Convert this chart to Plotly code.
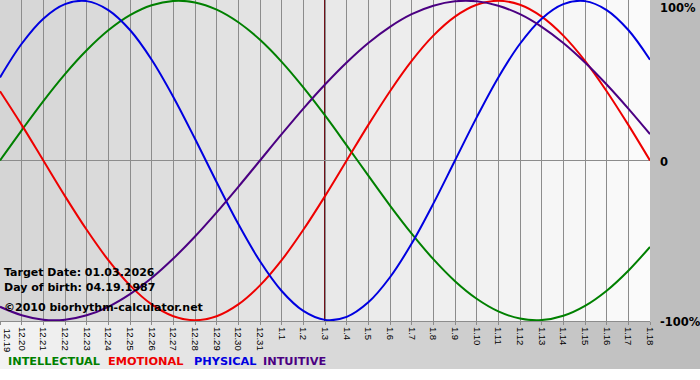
import plotly.graph_objects as go

# ---------------- data ----------------
day_labels = ["12.19", "12.20", "12.21", "12.22", "12.23", "12.24", "12.25", "12.26", "12.27",
              "12.28", "12.29", "12.30", "12.31", "1.1", "1.2", "1.3", "1.4", "1.5", "1.6",
              "1.7", "1.8", "1.9", "1.10", "1.11", "1.12", "1.13", "1.14", "1.15", "1.16",
              "1.17", "1.18"]

intellectual = [0.000, 0.189, 0.372, 0.541, 0.690, 0.815, 0.910, 0.972, 0.999, 0.990, 0.945,
                0.866, 0.756, 0.618, 0.458, 0.282, 0.095, -0.095, -0.282, -0.458, -0.618,
                -0.756, -0.866, -0.945, -0.990, -0.999, -0.972, -0.910, -0.815, -0.690, -0.541]

emotional = [0.434, 0.223, 0.000, -0.223, -0.434, -0.624, -0.782, -0.901, -0.975, -1.000,
             -0.975, -0.901, -0.782, -0.624, -0.434, -0.223, 0.000, 0.223, 0.434, 0.624,
             0.782, 0.901, 0.975, 1.000, 0.975, 0.901, 0.782, 0.624, 0.434, 0.223, 0.000]

physical = [0.520, 0.731, 0.888, 0.979, 0.998, 0.942, 0.817, 0.631, 0.398, 0.136, -0.136,
            -0.398, -0.631, -0.817, -0.942, -0.998, -0.979, -0.888, -0.731, -0.520, -0.270,
            0.000, 0.270, 0.520, 0.731, 0.888, 0.979, 0.998, 0.942, 0.817, 0.631]

intuitive = [-0.916, -0.969, -0.997, -0.997, -0.969, -0.916, -0.837, -0.736, -0.614, -0.476,
             -0.325, -0.165, 0.000, 0.165, 0.325, 0.476, 0.614, 0.736, 0.837, 0.916, 0.969,
             0.997, 0.997, 0.969, 0.916, 0.837, 0.736, 0.614, 0.476, 0.325, 0.165]

series_names = ["INTELLECTUAL", "EMOTIONAL", "PHYSICAL", "INTUITIVE"]
series_colors = ["#008000", "#ee0000", "#0000e0", "#4b0082"]
y_labels = ["100%", "0", "-100%"]
y_label_vals = [1, 0, -1]
target_day = "1.3"
info_lines = ["Target Date: 01.03.2026", "Day of birth: 04.19.1987"]
copyright_text = "©2010 biorhythm-calculator.net"

# ---------------- geometry ----------------
W, H = 700, 380
L, R, T, B = 0, 50, 0, 59
PW, PH = W - L - R, H - T - B


def px_x(p):
    return (p - L) / PW


def px_y(p):
    return (H - B - p) / PH


x_idx = list(range(len(day_labels)))
fig = go.Figure()

for name, vals, col in zip(series_names, [intellectual, emotional, physical, intuitive], series_colors):
    fig.add_trace(go.Scatter(x=x_idx, y=vals, mode="lines", name=name,
                             line=dict(color=col, width=2, shape="spline", smoothing=1.0),
                             hoverinfo="skip"))

shapes = []
# outer background gradient (light left -> darker right)
n_out = 70
for i in range(n_out):
    c = int(round(243 - (243 - 188) * i / (n_out - 1)))
    shapes.append(dict(type="rect", xref="paper", yref="paper",
                       x0=px_x(i * W / n_out), x1=px_x((i + 1) * W / n_out + 0.5),
                       y0=px_y(369), y1=px_y(0), line=dict(width=0),
                       fillcolor=f"rgb({c},{c},{c})", layer="below"))
# plot area gradient (darker left -> light right)
n_in = 65
for i in range(n_in):
    c = int(round(213 - (213 - 251) * i / (n_in - 1)))
    shapes.append(dict(type="rect", xref="paper", yref="paper",
                       x0=i / n_in, x1=min(1.0, (i + 1) / n_in + 0.001),
                       y0=0, y1=1, line=dict(width=0),
                       fillcolor=f"rgb({c},{c},{c})", layer="below"))
# target day line
ti = day_labels.index(target_day)
shapes.append(dict(type="line", xref="x", yref="paper", x0=ti, x1=ti, y0=0, y1=1,
                   line=dict(color="#701018", width=2), layer="between"))

tick_font = dict(family="Liberation Sans", size=9.5, color="#000000")

annotations = []
# first day label (kept fully visible at the left page edge)
annotations.append(dict(text=day_labels[0], xref="x", yref="paper", x=0, y=0,
                        xanchor="left", yanchor="top", yshift=-5, xshift=0,
                        textangle=90, showarrow=False, font=tick_font))
for lab, v, ys in zip(y_labels, y_label_vals, [-7, -1.5, -2]):
    annotations.append(dict(text=f"<b>{lab}</b>", xref="paper", yref="y", x=1, y=v,
                            xanchor="left", yanchor="middle", xshift=8, yshift=ys,
                            showarrow=False,
                            font=dict(family="DejaVu Sans", size=11.5, color="#000000")))
for txt, yp in zip(info_lines, [272, 287]):
    annotations.append(dict(text=f"<b>{txt}</b>", xref="paper", yref="paper",
                            x=px_x(2), y=px_y(yp), xanchor="left", yanchor="middle",
                            showarrow=False,
                            font=dict(family="DejaVu Sans", size=11, color="#000000")))
annotations.append(dict(text=f"<b>{copyright_text}</b>", xref="paper", yref="paper",
                        x=px_x(2), y=px_y(307), xanchor="left", yanchor="middle",
                        showarrow=False,
                        font=dict(family="DejaVu Sans", size=11, color="#000000")))
for n, c, xp in zip(series_names, series_colors, [6, 106, 192, 261]):
    annotations.append(dict(text=f"<b>{n}</b>", xref="paper", yref="paper",
                            x=px_x(xp), y=px_y(362), xanchor="left", yanchor="middle",
                            showarrow=False,
                            font=dict(family="DejaVu Sans", size=11.3, color=c)))

fig.update_layout(
    width=W, height=H,
    margin=dict(l=L, r=R, t=T, b=B, pad=0),
    paper_bgcolor="#ffffff",
    plot_bgcolor="rgba(0,0,0,0)",
    showlegend=False,
    shapes=shapes,
    annotations=annotations,
    xaxis=dict(range=[0, len(day_labels) - 1], tickvals=x_idx, ticktext=day_labels,
               tickangle=90, ticks="outside", ticklen=3, tickcolor="#8c8c8c",
               showgrid=True, gridcolor="#8c8c8c", gridwidth=1,
               showline=True, linecolor="#8c8c8c", linewidth=1, zeroline=False,
               tickfont=tick_font, fixedrange=True),
    yaxis=dict(range=[-1.005, 1.005], showgrid=False, showticklabels=False, ticks="",
               zeroline=True, zerolinecolor="#8c8c8c", zerolinewidth=1,
               showline=False, fixedrange=True),
)

fig.write_html("out.html")
